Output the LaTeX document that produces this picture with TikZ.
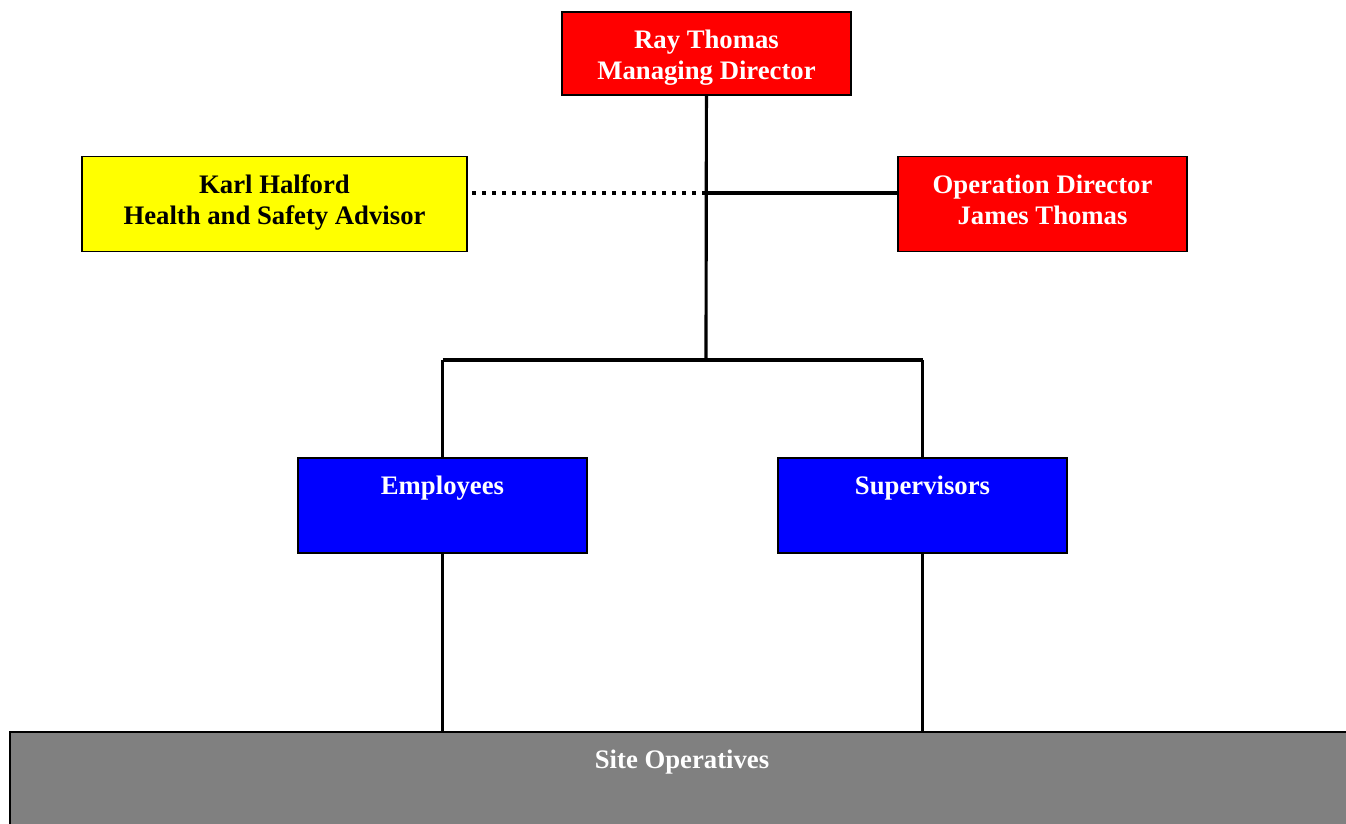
\documentclass[tikz,border=0pt]{standalone}
\usepackage{fontspec}
\setmainfont{Liberation Serif}
\usepackage{tikz}

\definecolor{boxred}{RGB}{255,0,0}
\definecolor{boxyellow}{RGB}{255,255,0}
\definecolor{boxblue}{RGB}{0,0,255}
\definecolor{boxgrey}{RGB}{128,128,128}

\begin{document}
\begin{tikzpicture}[x=0.02cm,y=-0.02cm]
\path[use as bounding box,clip] (0,0) rectangle (1346,823);

\begin{scope}[every node/.style={rectangle,draw=black,line width=1.1pt,align=center,
              font=\fontsize{15.2}{17.6}\selectfont\bfseries,text=white,
              minimum width=289*0.02cm,minimum height=95*0.02cm}]
    \node (MD)[fill=boxred,minimum height=83*0.02cm] at (706.5,53.5) {\rule{0pt}{15pt}Ray Thomas\\Managing Director};
    \node (HS)[fill=boxyellow,text=black,minimum width=385*0.02cm] at (274.5,204) {Karl Halford\\Health and Safety Advisor\rule[-5.5pt]{0pt}{0pt}};
    \node (OD)[fill=boxred] at (1042.5,204) {Operation Director\\James Thomas\rule[-5pt]{0pt}{0pt}};
    \node (EM)[fill=boxblue] at (442.5,505.5) {Employees\\\strut};
    \node (SU)[fill=boxblue] at (922.5,505.5) {Supervisors\\\strut};
    \node (SO)[fill=boxgrey,minimum width=1344*0.02cm] at (682,779.5) {Site Operatives\\\strut};
\end{scope}

\coordinate (T) at (706,193);
\coordinate (J) at (706,360);
\coordinate (JL) at (442.5,360);
\coordinate (JR) at (922.5,360);

\begin{scope}[every edge/.style={draw=black,line width=1.8pt}]
    \path  (MD) edge (J);
    \path  (JL) edge (JR);
    \path  (JL) edge (EM);
    \path  (JR) edge (SU);
    \path  (T) edge (T -| OD.west);
    \path  (T) edge[dash pattern=on 4*0.02cm off 6*0.02cm] (T -| HS.east);
    \path  (EM.south) edge (EM.south |- SO.north);
    \path  (SU.south) edge (SU.south |- SO.north);
\end{scope}
\end{tikzpicture}
\end{document}
